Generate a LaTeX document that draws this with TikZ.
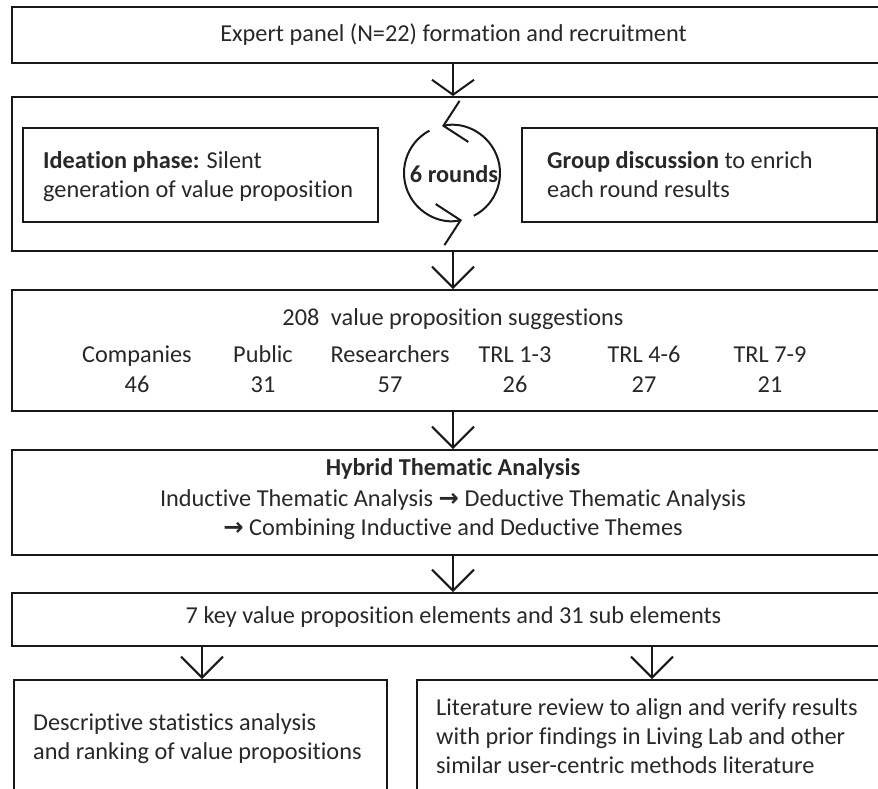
\documentclass[tikz,border=0pt]{standalone}
\usepackage{fontspec}
\setmainfont{Carlito}[Ligatures={NoCommon,NoContextual},RawFeature={-liga;-clig;-dlig;-calt}]
\newfontfamily\symfont{DejaVu Sans}
\usetikzlibrary{arrows.meta}
\definecolor{ln}{RGB}{25,25,25}
\definecolor{tx}{RGB}{40,40,40}
\newcommand{\rarr}{{\symfont\bfseries →}}
\begin{document}
\begin{tikzpicture}[x=1pt,y=-1pt,
  box/.style={draw=ln, line width=2pt, rectangle, inner sep=0pt},
  txt/.style={text=tx, font=\fontsize{24.3}{29.5}\selectfont, inner sep=0pt},
  ctxt/.style={txt, anchor=base},
  ltxt/.style={txt, anchor=base west},
  arr/.style={draw=ln, line width=2pt, -{Straight Barb[length=21pt,width=42pt]}},
  arrs/.style={draw=ln, line width=2pt, -{Straight Barb[length=15pt,width=42pt]}},
]
\useasboundingbox (0,0) rectangle (878,788);
\clip (0,0) rectangle (878,788);

% boxes
\node[box, minimum width=882pt, minimum height=56pt] (b1) at (453,35) {};
\node[box, minimum width=882pt, minimum height=154pt] (b2) at (453,174) {};
\node[box, minimum width=355pt, minimum height=94pt] (il) at (200.5,175) {};
\node[box, minimum width=355pt, minimum height=94pt] (ir) at (699.5,175) {};
\node[box, minimum width=882pt, minimum height=121pt] (b3) at (453,350.5) {};
\node[box, minimum width=882pt, minimum height=105pt] (b4) at (453,502.5) {};
\node[box, minimum width=882pt, minimum height=53pt] (b5) at (453,619.5) {};
\node[box, minimum width=373pt, minimum height=140pt] (bl) at (200.5,750) {};
\node[box, minimum width=483pt, minimum height=140pt] (br) at (658.5,750) {};

% texts
\node[ctxt] (t1) at (453.5,41) {Expert panel (N=22) formation and recruitment};
\node[ltxt] (tl1) at (43,168) {\textbf{Ideation phase:} Silent};
\node[ltxt] (tl2) at (43,197) {generation of value proposition};
\node[ltxt] (tr1) at (547,168) {\textbf{Group discussion} to enrich};
\node[ltxt] (tr2) at (547,197) {each round results};
\node[ctxt] (t3) at (453,325) {208\hspace{0.25em} value proposition suggestions};
\node[ctxt] (c1) at (137,362) {Companies};
\node[ctxt] (c2) at (263,362) {Public};
\node[ctxt] (c3) at (390,362) {Researchers};
\node[ctxt] (c4) at (515,362) {TRL 1-3};
\node[ctxt] (c5) at (644,362) {TRL 4-6};
\node[ctxt] (c6) at (770,362) {TRL 7-9};
\node[ctxt] (n1) at (137,392) {46};
\node[ctxt] (n2) at (263,392) {31};
\node[ctxt] (n3) at (390,392) {57};
\node[ctxt] (n4) at (515,392) {26};
\node[ctxt] (n5) at (644,392) {27};
\node[ctxt] (n6) at (770,392) {21};
\node[ctxt] (t4a) at (453,475) {\textbf{Hybrid Thematic Analysis}};
\node[ctxt] (t4b) at (453,506) {Inductive Thematic Analysis \rarr\ Deductive Thematic Analysis};
\node[ctxt] (t4c) at (453,535) {\rarr\ Combining Inductive and Deductive Themes};
\node[ctxt] (t5) at (453.5,623) {7 key value proposition elements and 31 sub elements};
\node[ltxt] (tbl1) at (33,730) {Descriptive statistics analysis};
\node[ltxt] (tbl2) at (33,759) {and ranking of value propositions};
\node[ltxt] (tbr1) at (436,715) {Literature review to align and verify results};
\node[ltxt] (tbr2) at (436,744) {with prior findings in Living Lab and other};
\node[ltxt] (tbr3) at (436,773) {similar user-centric methods literature};

% cycle
\coordinate (cyc) at (452,173);
\node[txt, font=\fontsize{24.3}{29.5}\selectfont\bfseries, anchor=base] (rounds) at (454,182) {6 rounds};
\draw[arr] ([shift={(63:48)}]cyc) arc[start angle=63, end angle=-102, radius=48];
\draw[arr] ([shift={(-118:48)}]cyc) arc[start angle=-118, end angle=-282, radius=48];

% connectors
\draw[arrs] (b1.south) -- (b2.north);
\draw[arr] (b2.south) -- (b3.north);
\draw[arr] (b3.south) -- (b4.north);
\draw[arr] (b4.south) -- (b5.north);
\coordinate (b5l) at (202,646);
\coordinate (b5r) at (652,646);
\draw[arr] (b5l) -- (b5l |- bl.north);
\draw[arr] (b5r) -- (b5r |- br.north);
\end{tikzpicture}
\end{document}
